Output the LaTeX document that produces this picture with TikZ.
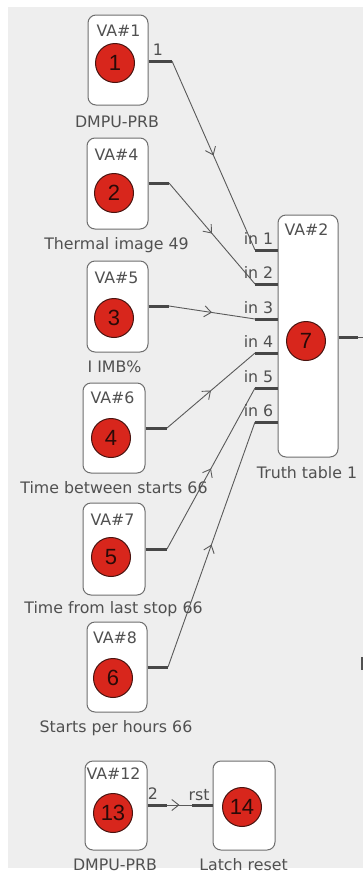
\documentclass[tikz,border=0pt]{standalone}
\usepackage{fontspec}
\setmainfont{DejaVu Sans}
\newfontfamily\numfont{Liberation Sans}
\usetikzlibrary{decorations.markings,arrows.meta}
\definecolor{bggray}{HTML}{EEEEEE}
\definecolor{boxline}{HTML}{6E6E6E}
\definecolor{redfill}{HTML}{D8261C}
\definecolor{reddark}{HTML}{4A1410}
\definecolor{txt}{HTML}{505050}
\definecolor{stubc}{HTML}{474747}
\definecolor{wire}{HTML}{5A5A5A}
\definecolor{numc}{HTML}{2A0A08}
\begin{document}
\begin{tikzpicture}[x=1pt,y=-1pt,
  vabox/.style={draw=boxline,fill=white,rounded corners=8pt,line width=1pt,inner sep=0},
  redc/.style={circle,draw=reddark,fill=redfill,line width=1pt,minimum size=39pt,inner sep=0,
    font=\numfont\fontsize{22}{22}\selectfont,text=numc},
  txtlab/.style={text=txt,font=\fontsize{15.8}{18}\selectfont,inner sep=0},
  baselab/.style={txtlab,anchor=base},
  stub/.style={draw=stubc,line width=3pt},
  wirestyle/.style={draw=wire,line width=0.9pt,postaction={decorate},
    decoration={markings,mark=at position 0.5 with {\arrow{Straight Barb[length=7pt,width=11pt,line width=0.9pt]}}}},
]
\useasboundingbox (0,0) rectangle (363,879);
\fill[bggray] (8,7) rectangle (363,868);

% boxes
\node[vabox,minimum width=60pt,minimum height=90pt] (b1) at (118,60) {};
\node[vabox,minimum width=61pt,minimum height=91pt] (b2) at (117.5,183.5) {};
\node[vabox,minimum width=61pt,minimum height=91pt] (b3) at (117.5,306.5) {};
\node[vabox,minimum width=62pt,minimum height=90pt] (b4) at (114,428) {};
\node[vabox,minimum width=62pt,minimum height=92pt] (b5) at (114,549) {};
\node[vabox,minimum width=60pt,minimum height=90pt] (b6) at (117,667) {};
\node[vabox,minimum width=62pt,minimum height=89pt] (b13) at (116,805.5) {};
\node[vabox,minimum width=62pt,minimum height=89pt] (b14) at (244,805.5) {};
\node[vabox,minimum width=60pt,minimum height=242pt] (tt) at (308,336) {};

% stub end coordinates
\coordinate (s1) at (172,61);
\coordinate (s2) at (169,183);
\coordinate (s3) at (169,306);
\coordinate (s4) at (167,428);
\coordinate (s5) at (167,549);
\coordinate (s6) at (168,667);
\coordinate (s13) at (167,805);
\coordinate (r14) at (192,805);
\coordinate (i1) at (255,250);
\coordinate (i2) at (255,284);
\coordinate (i3) at (255,319);
\coordinate (i4) at (255,353);
\coordinate (i5) at (255,388);
\coordinate (i6) at (255,422);
\coordinate (o7) at (358,337);
\coordinate (o7e) at (363,337);

% wires
\draw[wirestyle] (s1) -- (i1);
\draw[wirestyle] (s2) -- (i2);
\draw[wirestyle] (s3) -- (i3);
\draw[wirestyle] (s4) -- (i4);
\draw[wirestyle] (s5) -- (i5);
\draw[wirestyle] (s6) -- (i6);
\draw[wirestyle] (s13) -- (r14);
\draw[draw=wire,line width=0.9pt] (o7) -- (o7e);

% stubs
\draw[stub] (b1.east |- s1) -- (s1);
\draw[stub] (b2.east |- s2) -- (s2);
\draw[stub] (b3.east |- s3) -- (s3);
\draw[stub] (b4.east |- s4) -- (s4);
\draw[stub] (b5.east |- s5) -- (s5);
\draw[stub] (b6.east |- s6) -- (s6);
\draw[stub] (b13.east |- s13) -- (s13);
\draw[stub] (r14) -- (r14 -| b14.west);
\draw[stub] (i1) -- (i1 -| tt.west);
\draw[stub] (i2) -- (i2 -| tt.west);
\draw[stub] (i3) -- (i3 -| tt.west);
\draw[stub] (i4) -- (i4 -| tt.west);
\draw[stub] (i5) -- (i5 -| tt.west);
\draw[stub] (i6) -- (i6 -| tt.west);
\draw[stub] (tt.east |- o7) -- (o7);

% circles
\node[redc] (c1) at (115,63) {1};
\node[redc] (c2) at (114,193) {2};
\node[redc] (c3) at (114,318) {3};
\node[redc] (c4) at (111,438) {4};
\node[redc] (c5) at (111,557) {5};
\node[redc] (c6) at (113,678) {6};
\node[redc] (c13) at (113,813) {13};
\node[redc] (c14) at (242,807) {14};
\node[redc] (c7) at (306,341) {7};

% VA labels
\node[txtlab] (v1) at (118.5,31) {VA\#1};
\node[txtlab] (v4) at (116.5,155) {VA\#4};
\node[txtlab] (v5) at (116.5,277.5) {VA\#5};
\node[txtlab] (v6) at (112.5,398) {VA\#6};
\node[txtlab] (v7) at (112.5,520) {VA\#7};
\node[txtlab] (v8) at (115,637.5) {VA\#8};
\node[txtlab] (v12) at (113.5,773.5) {VA\#12};
\node[txtlab] (v2) at (306.5,230) {VA\#2};

% names below
\node[baselab] (l1) at (117,127) {DMPU-PRB};
\node[baselab] (l2) at (116.5,249) {Thermal image 49};
\node[baselab] (l3) at (114.5,372) {I IMB\%};
\node[baselab] (l4) at (114,493) {Time between starts 66};
\node[baselab] (l5) at (113.5,613.5) {Time from last stop 66};
\node[baselab] (l6) at (116,732) {Starts per hours 66};
\node[baselab] (l13) at (115,870.5) {DMPU-PRB};
\node[baselab] (l14) at (243.5,870.5) {Latch reset};
\node[baselab] (l7) at (307,478) {Truth table 1};

% port labels
\node[baselab] (p1) at (158,55.5) {1};
\node[baselab] (p2) at (153,799.5) {2};
\node[baselab] (prst) at (199,800) {rst};
\node[baselab] (in1) at (258.5,244.5) {in 1};
\node[baselab] (in2) at (258.5,278.5) {in 2};
\node[baselab] (in3) at (258.5,313.5) {in 3};
\node[baselab] (in4) at (258.5,347.5) {in 4};
\node[baselab] (in5) at (258.5,382.5) {in 5};
\node[baselab] (in6) at (258.5,416.5) {in 6};

% clipped mark at right edge
\fill[txt] (360.5,657) rectangle (363,670);
\end{tikzpicture}
\end{document}
